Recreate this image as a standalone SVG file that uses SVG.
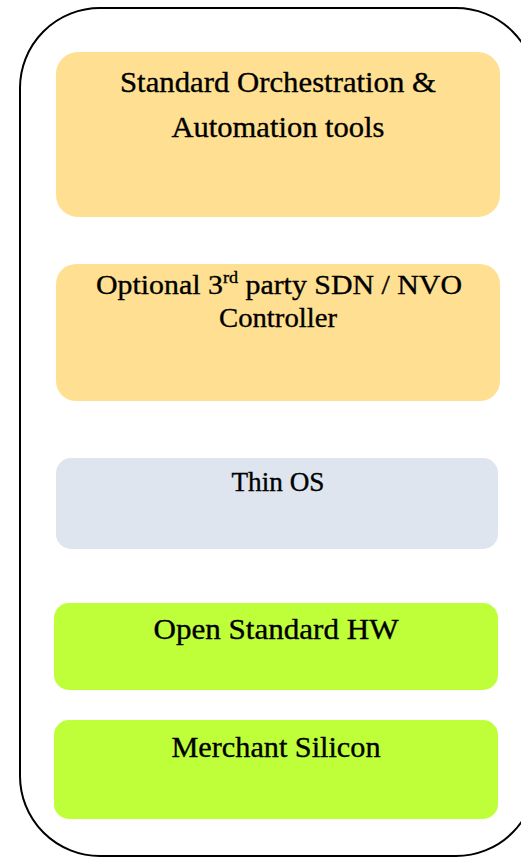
<svg xmlns="http://www.w3.org/2000/svg" width="521" height="858" viewBox="0 0 521 858">
<style>
.t{font-family:"Liberation Serif","DejaVu Serif",serif;fill:#000;stroke:#000;stroke-width:0.35;text-anchor:middle}
.y{fill:#FFE092}
.b{fill:#DEE5EF}
.g{fill:#BFFF3A}
</style>
<rect width="521" height="858" fill="#fff"/>
<g id="frame"><rect x="20" y="8" width="516" height="848" rx="80" ry="80" fill="none" stroke="#000" stroke-width="2"/></g>
<g id="orchestration">
<rect class="y" x="56" y="52" width="444" height="165" rx="22"/>
<text class="t" x="278" y="92" font-size="29" textLength="316" lengthAdjust="spacingAndGlyphs">Standard Orchestration &amp;</text>
<text class="t" x="278" y="137" font-size="29" textLength="213" lengthAdjust="spacingAndGlyphs">Automation tools</text>
</g>
<g id="controller">
<rect class="y" x="56" y="264" width="444" height="137" rx="20"/>
<text class="t" x="279" y="294" font-size="28" textLength="366" lengthAdjust="spacingAndGlyphs">Optional 3<tspan font-size="17" dy="-11">rd</tspan><tspan dy="11"> party SDN / NVO</tspan></text>
<text class="t" x="278" y="327" font-size="28" textLength="118" lengthAdjust="spacingAndGlyphs">Controller</text>
</g>
<g id="thinos">
<rect class="b" x="56" y="458" width="442" height="91" rx="15"/>
<text class="t" x="278" y="491" font-size="27" textLength="93" lengthAdjust="spacingAndGlyphs">Thin OS</text>
</g>
<g id="hw">
<rect class="g" x="54" y="603" width="444" height="87" rx="15"/>
<text class="t" x="276" y="639" font-size="29" textLength="245" lengthAdjust="spacingAndGlyphs">Open Standard HW</text>
</g>
<g id="silicon">
<rect class="g" x="54" y="720" width="444" height="99" rx="15"/>
<text class="t" x="276" y="757" font-size="29" textLength="209" lengthAdjust="spacingAndGlyphs">Merchant Silicon</text>
</g>
</svg>
